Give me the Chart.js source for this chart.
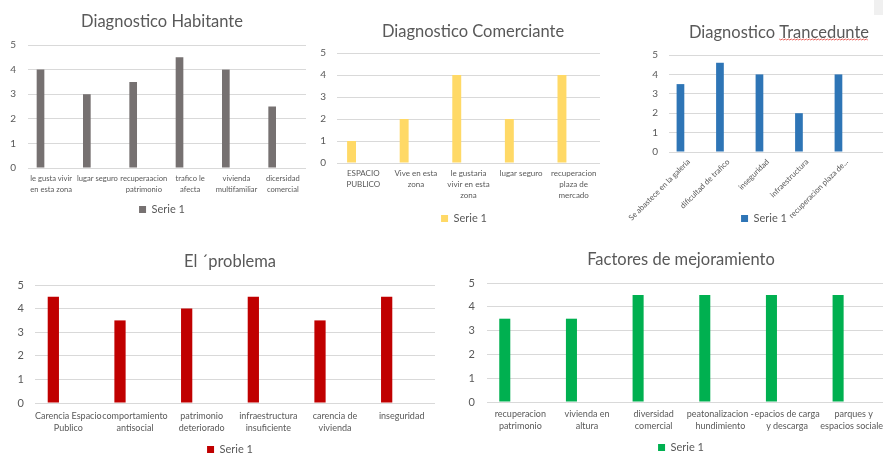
<!DOCTYPE html>
<html lang="es">
<head>
<meta charset="utf-8">
<title>Diagnostico</title>
<script src="https://cdn.jsdelivr.net/npm/chart.js@4.4.1/dist/chart.umd.min.js"></script>
<style>
    html, body { margin: 0; padding: 0; background: #fff; }
    body { width: 883px; height: 455px; overflow: hidden; position: relative; }
    canvas { position: absolute; }
    .corner { position: absolute; left: 874px; top: 0; width: 9px; height: 15px; background: #f0f0f0; }
</style>
</head>
<body>
<canvas id="habitante" width="324" height="225" style="left:0;top:0"></canvas>
<canvas id="comerciante" width="320" height="234" style="left:308px;top:0"></canvas>
<canvas id="transeunte" width="320" height="234" style="left:615px;top:0"></canvas>
<canvas id="problema" width="460" height="225" style="left:0;top:240px"></canvas>
<canvas id="mejoramiento" width="452" height="223" style="left:455px;top:240px"></canvas>
<div class="corner"></div>
<script>
// values
const seriesNames = ['Serie 1', 'Serie 2', 'Serie 3'];
const yMax = 5;

const habitanteLabels = [['le gusta vivir', 'en esta zona'], 'lugar seguro', ['recuperaacion', 'patrimonio'], ['trafico le', 'afecta'], ['vivienda', 'multifamiliar'], ['dicersidad', 'comercial']];
const habitanteValues = [4, 3, 3.5, 4.5, 4, 2.5];

const comercianteLabels = [['ESPACIO', 'PUBLICO'], ['Vive en esta', 'zona'], ['le gustaria', 'vivir en esta', 'zona'], 'lugar seguro', ['recuperacion', 'plaza de', 'mercado']];
const comercianteValues = [1, 2, 4, 2, 4];

const transeunteLabels = ['Se abastece en la galeria', 'dificultad de trafico', 'inseguridad', 'infraestructura', 'recuperacion plaza de...', ''];
const transeunteValues = [3.5, 4.6, 4, 2, 4, null];

const problemaLabels = [['Carencia Espacio', 'Publico'], ['comportamiento', 'antisocial'], ['patrimonio', 'deteriorado'], ['infraestructura', 'insuficiente'], ['carencia de', 'vivienda'], 'inseguridad'];
const problemaValues = [4.5, 3.5, 4, 4.5, 3.5, 4.5];

const mejoraLabels = [['recuperacion', 'patrimonio'], ['vivienda en', 'altura'], ['diversidad', 'comercial'], ['peatonalizacion -', 'hundimiento'], ['epacios de carga', 'y descarga'], ['parques y', 'espacios sociales']];
const mejoraValues = [3.5, 3.5, 4.5, 4.5, 4.5, 4.5];

const textColor = '#595959';
const gridColor = '#d9d9d9';
const family = 'Lato';
const titleSize = 16.5;

// Excel centres title and legend a bit differently; nudge the boxes sideways
const boxShift = {
    id: 'boxShift',
    afterLayout(chart, args, opts) {
        if (opts.title) {
            chart.titleBlock.left += opts.title;
            chart.titleBlock.right += opts.title;
        }
        if (opts.legend) {
            chart.legend.left += opts.legend;
            chart.legend.right += opts.legend;
        }
    }
};

// red squiggle under a misspelt word of the title (like Office spell check)
const spellingMark = {
    id: 'spellingMark',
    afterDraw(chart, args, opts) {
        if (!opts.word) return;
        const title = chart.options.plugins.title;
        const block = chart.titleBlock;
        const ctx = chart.ctx;
        ctx.save();
        ctx.font = `${title.font.size}px ${family}`;
        const fullWidth = ctx.measureText(title.text).width;
        const cx = (block.left + block.right) / 2;
        const before = title.text.slice(0, title.text.indexOf(opts.word));
        const startX = cx - fullWidth / 2 + ctx.measureText(before).width;
        const endX = startX + ctx.measureText(opts.word).width;
        const y = block.top + title.padding.top + 10 + opts.offset;
        ctx.strokeStyle = '#e8625c';
        ctx.lineWidth = 1;
        ctx.beginPath();
        let i = 0;
        for (let x = startX; x <= endX; x += 1.5, i++) {
            const yy = y + (i % 2 ? 1 : 0);
            if (i === 0) ctx.moveTo(x, yy); else ctx.lineTo(x, yy);
        }
        ctx.stroke();
        ctx.restore();
    }
};

// tick labels sit outside the (narrow) axis boxes, so don't clip them
const noLabelClip = scale => { scale._computeLabelArea = () => undefined; };

function drawBarChart(canvasId, c) {
    const ctx = document.getElementById(canvasId).getContext('2d');
    const bar = { backgroundColor: c.color, borderWidth: 0, categoryPercentage: c.catPct, barPercentage: c.barPct };
    return new Chart(ctx, {
        type: 'bar',
        data: {
            labels: c.labels,
            datasets: [
                { label: seriesNames[0], data: c.values, ...bar },
                { label: seriesNames[1], data: [], ...bar },
                { label: seriesNames[2], data: [], ...bar }
            ]
        },
        plugins: [boxShift, spellingMark],
        options: {
            responsive: false,
            animation: false,
            layout: { padding: { left: c.side, right: c.side, top: 0, bottom: 0 } },
            plugins: {
                title: {
                    display: true,
                    text: c.title,
                    color: textColor,
                    font: { family: family, size: titleSize, weight: 'normal', lineHeight: '20px' },
                    padding: { top: c.titleTop, bottom: c.titleBottom }
                },
                legend: {
                    position: 'bottom',
                    labels: {
                        filter: item => item.datasetIndex === 0,
                        boxWidth: 7,
                        boxHeight: 7,
                        padding: 4,
                        color: textColor,
                        font: { family: family, size: 11 }
                    }
                },
                tooltip: { enabled: false },
                boxShift: c.shift || {},
                spellingMark: c.squiggle || {}
            },
            scales: {
                x: {
                    grid: { display: false, drawTicks: false },
                    border: { display: false },
                    ticks: {
                        autoSkip: false,
                        maxRotation: c.rotation,
                        minRotation: c.rotation,
                        padding: c.xPad,
                        color: textColor,
                        font: { family: family, size: c.xFont, lineHeight: c.xLine }
                    },
                    afterFit: scale => {
                        scale.height = c.xHeight;
                        noLabelClip(scale);
                    }
                },
                y: {
                    min: 0,
                    max: yMax,
                    grid: { color: gridColor, drawTicks: false },
                    border: { display: false },
                    ticks: {
                        stepSize: 1,
                        padding: c.yPad,
                        color: textColor,
                        font: { family: family, size: c.yFont }
                    },
                    afterFit: scale => {
                        scale.width = c.yWidth;
                        noLabelClip(scale);
                    }
                }
            }
        }
    });
}

drawBarChart('habitante', {
    title: 'Diagnostico Habitante', labels: habitanteLabels, values: habitanteValues, color: '#767171',
    catPct: 0.69, barPct: 0.72, side: 18, yWidth: 10, yPad: 12, yFont: 10,
    titleTop: 12, titleBottom: 13, xHeight: 32, xPad: 5, xFont: 7.6, xLine: '11px', rotation: 0
});

drawBarChart('comerciante', {
    title: 'Diagnostico Comerciante', labels: comercianteLabels, values: comercianteValues, color: '#FFD966',
    catPct: 0.67, barPct: 0.76, side: 28, yWidth: 1, yPad: 11, yFont: 10,
    titleTop: 22, titleBottom: 11, xHeight: 46, xPad: 5, xFont: 8, xLine: '11px', rotation: 0,
    shift: { title: 5, legend: -4 }
});

drawBarChart('transeunte', {
    title: 'Diagnostico Trancedunte', labels: transeunteLabels, values: transeunteValues, color: '#2E75B6',
    catPct: 0.63, barPct: 0.93, side: 29, yWidth: 25, yPad: 11, yFont: 10,
    titleTop: 23, titleBottom: 12, xHeight: 57, xPad: 5, xFont: 7.8, xLine: '10px', rotation: 45,
    shift: { title: 4, legend: -11 },
    squiggle: { word: 'Trancedunte', offset: 6 }
});

drawBarChart('problema', {
    title: 'El ´problema', labels: problemaLabels, values: problemaValues, color: '#C00000',
    catPct: 0.675, barPct: 0.75, side: 25, yWidth: 10, yPad: 11, yFont: 11,
    titleTop: 12, titleBottom: 13, xHeight: 37, xPad: 7, xFont: 9, xLine: '12px', rotation: 0
});

drawBarChart('mejoramiento', {
    title: 'Factores de mejoramiento', labels: mejoraLabels, values: mejoraValues, color: '#00B050',
    catPct: 0.70, barPct: 0.71, side: 20, yWidth: 12, yPad: 12, yFont: 11,
    titleTop: 10, titleBottom: 13, xHeight: 36, xPad: 5.5, xFont: 9, xLine: '12.5px', rotation: 0
});
</script>
</body>
</html>
